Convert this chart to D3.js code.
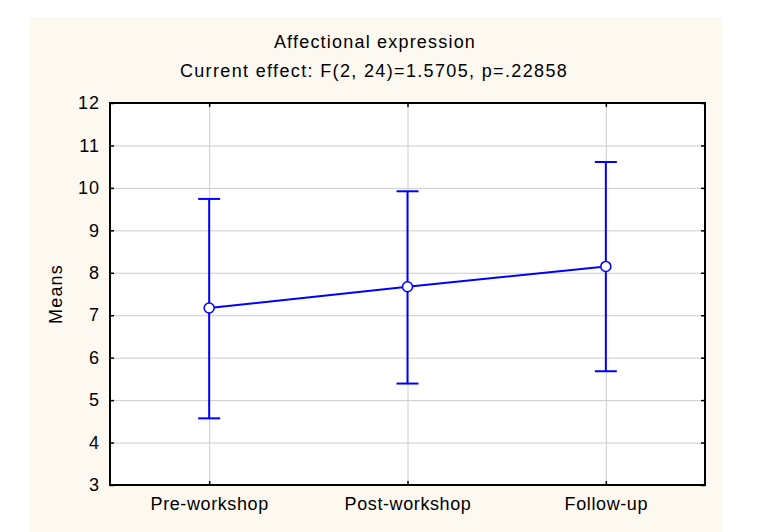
<html>
<meta charset="utf-8">

<head>
    <script src="https://d3js.org/d3.v7.min.js"></script>
    <style>
        body {
            margin: 0;
            background: #ffffff;
        }

        text {
            font-family: "Liberation Sans", Arial, sans-serif;
            font-size: 18px;
            fill: #000;
        }
    </style>
</head>

<body>
    <svg id="chart" width="759" height="532"></svg>

    <script>
        // data
        const categories = ['Pre-workshop', 'Post-workshop', 'Follow-up'];
        const means = [7.17, 7.67, 8.15];
        const upper = [9.74, 9.92, 10.61];
        const lower = [4.57, 5.39, 5.68];
        const yTicks = [3, 4, 5, 6, 7, 8, 9, 10, 11, 12];

        const titleText = 'Affectional expression';
        const subtitleText = 'Current effect: F(2, 24)=1.5705, p=.22858';
        const yLabel = 'Means';

        const svg = d3.select('svg#chart');
        const margin = { top: 103, right: 54, bottom: 47, left: 110 };
        const width = +svg.attr('width');
        const height = +svg.attr('height');
        const chartWidth = width - margin.left - margin.right;
        const chartHeight = height - margin.top - margin.bottom;

        // cream background panel
        svg.append('rect')
            .attr('x', 30).attr('y', 17)
            .attr('width', 692).attr('height', height - 17)
            .attr('fill', '#fdf9f0');

        const xScale = d3.scalePoint().domain(categories).range([0, chartWidth]).padding(0.5);
        const yScale = d3.scaleLinear().domain([3, 12]).range([chartHeight, 0]);

        const chartArea = svg.append('g')
            .attr('transform', `translate(${margin.left},${margin.top})`);

        chartArea.append('rect')
            .attr('width', chartWidth).attr('height', chartHeight)
            .attr('fill', '#ffffff');

        // gridlines
        const leftGridlines = d3.axisLeft(yScale).tickValues(yTicks).tickSize(-chartWidth).tickFormat('');
        const bottomGridlines = d3.axisBottom(xScale).tickSize(-chartHeight).tickFormat('');

        chartArea.append('g').attr('class', 'gridlines')
            .call(leftGridlines)
            .call(g => g.select('.domain').remove())
            .call(g => g.selectAll('line').attr('stroke', '#cccccc').attr('stroke-width', 1));

        chartArea.append('g').attr('class', 'gridlines')
            .attr('transform', `translate(0,${chartHeight})`)
            .call(bottomGridlines)
            .call(g => g.select('.domain').remove())
            .call(g => g.selectAll('line').attr('stroke', '#cccccc').attr('stroke-width', 1));

        // inward ticks on all four sides
        const tickLen = 4;
        const sides = [
            { axis: d3.axisLeft(yScale).tickValues(yTicks), t: '0,0' },
            { axis: d3.axisRight(yScale).tickValues(yTicks), t: `${chartWidth},0` },
            { axis: d3.axisTop(xScale), t: '0,0' },
            { axis: d3.axisBottom(xScale), t: `0,${chartHeight}` }
        ];
        sides.forEach(s => {
            chartArea.append('g')
                .attr('transform', `translate(${s.t})`)
                .call(s.axis.tickSize(-tickLen).tickFormat(''))
                .call(g => g.select('.domain').remove())
                .call(g => g.selectAll('line').attr('stroke', '#000').attr('stroke-width', 1.5));
        });

        // y tick labels
        chartArea.append('g')
            .call(d3.axisLeft(yScale).tickValues(yTicks).tickSize(0).tickPadding(10))
            .call(g => g.select('.domain').remove())
            .call(g => g.selectAll('text')
                .style('font-size', '18px')
                .style('font-family', '"Liberation Sans", Arial, sans-serif')
                .style('letter-spacing', '1px'));

        // x tick labels
        chartArea.append('g')
            .attr('transform', `translate(0,${chartHeight})`)
            .call(d3.axisBottom(xScale).tickSize(0).tickPadding(12))
            .call(g => g.select('.domain').remove())
            .call(g => g.selectAll('text')
                .style('font-size', '18px')
                .style('font-family', '"Liberation Sans", Arial, sans-serif')
                .style('letter-spacing', '0.6px'));

        // plot frame
        chartArea.append('rect')
            .attr('width', chartWidth).attr('height', chartHeight)
            .attr('fill', 'none')
            .attr('stroke', '#000')
            .attr('stroke-width', 2);

        const blue = '#0000ff';
        const rows = categories.map((c, i) => ({ cat: c, mean: means[i], hi: upper[i], lo: lower[i] }));

        // error bars
        const bars = chartArea.selectAll('g.errbar').data(rows)
            .join('g').attr('class', 'errbar')
            .attr('stroke', blue).attr('stroke-width', 2);

        bars.append('line')
            .attr('x1', d => xScale(d.cat)).attr('x2', d => xScale(d.cat))
            .attr('y1', d => yScale(d.hi)).attr('y2', d => yScale(d.lo));
        bars.append('line')
            .attr('x1', d => xScale(d.cat) - 11).attr('x2', d => xScale(d.cat) + 11)
            .attr('y1', d => yScale(d.hi)).attr('y2', d => yScale(d.hi));
        bars.append('line')
            .attr('x1', d => xScale(d.cat) - 11).attr('x2', d => xScale(d.cat) + 11)
            .attr('y1', d => yScale(d.lo)).attr('y2', d => yScale(d.lo));

        // mean line
        const lineGen = d3.line()
            .x(d => xScale(d.cat))
            .y(d => yScale(d.mean));

        chartArea.append('path')
            .datum(rows)
            .attr('fill', 'none')
            .attr('stroke', blue)
            .attr('stroke-width', 2)
            .attr('d', lineGen);

        chartArea.selectAll('circle.mean').data(rows)
            .join('circle').attr('class', 'mean')
            .attr('cx', d => xScale(d.cat))
            .attr('cy', d => yScale(d.mean))
            .attr('r', 5)
            .attr('fill', '#fff')
            .attr('stroke', blue)
            .attr('stroke-width', 1.5);

        // titles
        svg.append('text').text(titleText)
            .attr('x', 375).attr('y', 48)
            .attr('text-anchor', 'middle')
            .style('letter-spacing', '1.2px');

        svg.append('text').text(subtitleText)
            .attr('x', 374).attr('y', 77)
            .attr('text-anchor', 'middle')
            .style('letter-spacing', '1.35px');

        // axis label
        svg.append('text').text(yLabel)
            .attr('transform', `translate(62,${margin.top + chartHeight / 2}) rotate(-90)`)
            .attr('text-anchor', 'middle')
            .style('letter-spacing', '1.2px');
    </script>
</body>

</html>
